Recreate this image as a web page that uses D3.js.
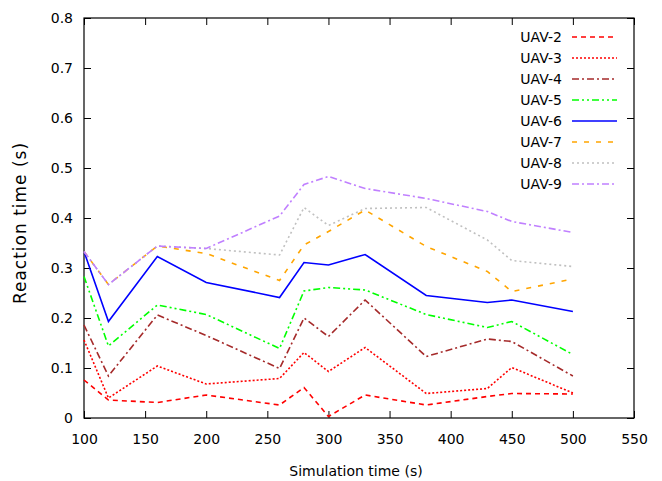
<!DOCTYPE html>
<html>
<head>
<meta charset="utf-8">
<script src="https://cdn.jsdelivr.net/npm/d3@7"></script>
<style>
  body { margin: 0; background: #fff; }
  text { font-family: "DejaVu Sans", sans-serif; font-size: 14px; fill: #000; }
</style>
</head>
<body>
<svg id="chart" width="662" height="481"></svg>
<script>
// Simulation time samples (s)
const times = [100, 120, 160, 200, 260, 280, 300, 330, 380, 430, 450, 500];

// Reaction time per UAV count (s)
const uav2 = [0.076, 0.036, 0.031, 0.046, 0.026, 0.061, 0.003, 0.046, 0.026, 0.043, 0.049, 0.048];
const uav3 = [0.156, 0.040, 0.104, 0.068, 0.079, 0.131, 0.093, 0.141, 0.049, 0.059, 0.101, 0.050];
const uav4 = [0.186, 0.084, 0.206, 0.165, 0.099, 0.200, 0.163, 0.236, 0.123, 0.158, 0.153, 0.084];
const uav5 = [0.283, 0.144, 0.226, 0.207, 0.139, 0.254, 0.261, 0.256, 0.207, 0.181, 0.193, 0.127];
const uav6 = [0.333, 0.193, 0.323, 0.271, 0.241, 0.311, 0.306, 0.327, 0.245, 0.231, 0.236, 0.213];
const uav7 = [0.333, 0.267, 0.344, 0.329, 0.275, 0.346, 0.373, 0.416, 0.343, 0.293, 0.253, 0.278];
const uav8 = [0.333, 0.267, 0.344, 0.339, 0.326, 0.421, 0.385, 0.419, 0.421, 0.356, 0.315, 0.303];
const uav9 = [0.333, 0.267, 0.344, 0.339, 0.404, 0.467, 0.483, 0.459, 0.439, 0.413, 0.393, 0.371];

const seriesNames = ["UAV-2", "UAV-3", "UAV-4", "UAV-5", "UAV-6", "UAV-7", "UAV-8", "UAV-9"];
const seriesValues = [uav2, uav3, uav4, uav5, uav6, uav7, uav8, uav9];

const xTicks = [100, 150, 200, 250, 300, 350, 400, 450, 500, 550];
const yTicks = [0, 0.1, 0.2, 0.3, 0.4, 0.5, 0.6, 0.7, 0.8];

// Styling (gnuplot-like)
const styles = [
  { color: "#ff0000", dash: "5,4" },
  { color: "#ff0000", dash: "2,2" },
  { color: "#a52a2a", dash: "7,3,2,3" },
  { color: "#00ff00", dash: "7,3,2,3,2,3" },
  { color: "#0000ff", dash: null },
  { color: "#ffa500", dash: "5,7" },
  { color: "#c0c0c0", dash: "2,3" },
  { color: "#c080ff", dash: "7,3,2,3" }
];

const margin = { top: 18, right: 28, bottom: 63, left: 84 };
const width = 662, height = 481;

const svg = d3.select("#chart");

const x = d3.scaleLinear().domain([100, 550]).range([margin.left, width - margin.right]);
const y = d3.scaleLinear().domain([0, 0.8]).range([height - margin.bottom, margin.top]);

const tickLen = 7;

// Axes with inward ticks, mirrored on top/right
svg.append("g")
    .attr("transform", `translate(0,${y(0)})`)
    .call(d3.axisBottom(x).tickValues(xTicks).tickSize(-tickLen).tickPadding(16).tickFormat(d3.format("d")))
    .call(g => g.select(".domain").remove());

svg.append("g")
    .attr("transform", `translate(0,${y(0.8)})`)
    .call(d3.axisTop(x).tickValues(xTicks).tickSize(-tickLen).tickFormat(""))
    .call(g => g.select(".domain").remove());

svg.append("g")
    .attr("transform", `translate(${x(100)},0)`)
    .call(d3.axisLeft(y).tickValues(yTicks).tickSize(-tickLen).tickPadding(11).tickFormat(d => d === 0 ? "0" : d3.format(".1f")(d)))
    .call(g => g.select(".domain").remove());

svg.append("g")
    .attr("transform", `translate(${x(550)},0)`)
    .call(d3.axisRight(y).tickValues(yTicks).tickSize(-tickLen).tickFormat(""))
    .call(g => g.select(".domain").remove());

svg.selectAll(".tick text").style("font-size", "14px");
svg.selectAll(".tick line").attr("stroke", "#000");

// Frame
svg.append("rect")
    .attr("x", x(100)).attr("y", y(0.8))
    .attr("width", x(550) - x(100)).attr("height", y(0) - y(0.8))
    .attr("fill", "none").attr("stroke", "#000").attr("stroke-width", 1.2);

// Lines
const line = d3.line()
    .x((d, i) => x(times[i]))
    .y(d => y(d));

svg.append("g").selectAll("path")
    .data(seriesValues)
    .join("path")
    .attr("d", line)
    .attr("fill", "none")
    .attr("stroke", (d, i) => styles[i].color)
    .attr("stroke-width", 1.6)
    .attr("stroke-dasharray", (d, i) => styles[i].dash);

// Legend
const legend = svg.append("g");
const legendRows = legend.selectAll("g")
    .data(seriesNames)
    .join("g")
    .attr("transform", (d, i) => `translate(0,${37 + i * 21})`);

legendRows.append("text")
    .attr("x", 562)
    .attr("dy", "0.35em")
    .attr("text-anchor", "end")
    .text(d => d);

legendRows.append("line")
    .attr("x1", 572).attr("x2", 617)
    .attr("stroke", (d, i) => styles[i].color)
    .attr("stroke-width", 1.6)
    .attr("stroke-dasharray", (d, i) => styles[i].dash);

// Axis titles
svg.append("text")
    .attr("x", 356).attr("y", 476)
    .attr("text-anchor", "middle")
    .text("Simulation time (s)");

svg.append("text")
    .attr("transform", "translate(26,223) rotate(-90)")
    .attr("text-anchor", "middle")
    .style("font-size", "17px")
    .style("letter-spacing", "1px")
    .text("Reaction time (s)");
</script>
</body>
</html>
